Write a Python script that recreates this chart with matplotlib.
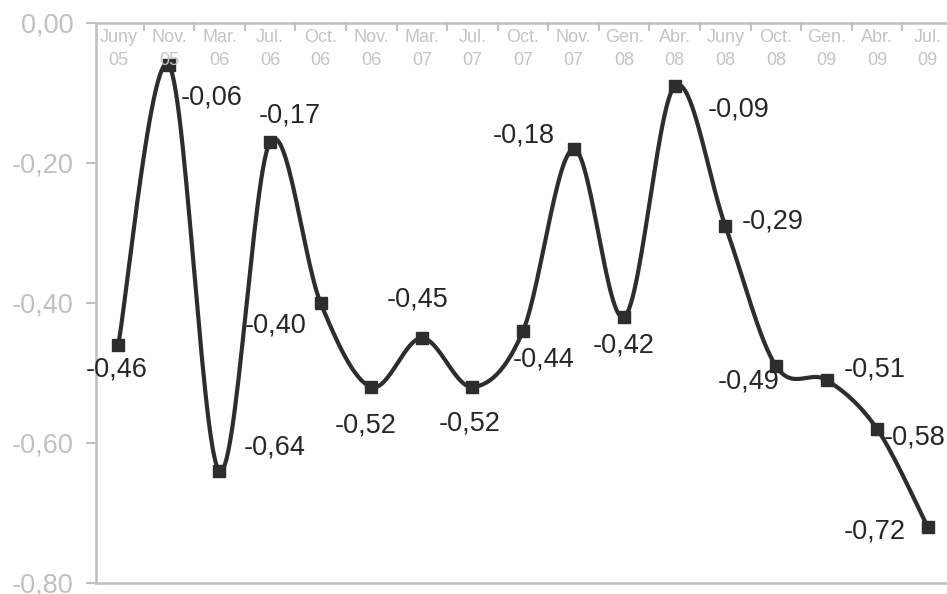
import numpy as np
import matplotlib.pyplot as plt

plt.rcParams['font.family'] = ['Liberation Sans', 'DejaVu Sans']

months = ["Juny", "Nov.", "Mar.", "Jul.", "Oct.", "Nov.", "Mar.", "Jul.", "Oct.",
          "Nov.", "Gen.", "Abr.", "Juny", "Oct.", "Gen.", "Abr.", "Jul."]
years = ["05", "05", "06", "06", "06", "06", "07", "07", "07",
         "07", "08", "08", "08", "08", "09", "09", "09"]
values = [-0.46, -0.06, -0.64, -0.17, -0.40, -0.52, -0.45, -0.52, -0.44,
          -0.18, -0.42, -0.09, -0.29, -0.49, -0.51, -0.58, -0.72]

# label offsets in pixels (dx, dy) from each marker, dy positive = up
label_off = [(-2, -24), (43, -32), (55, 23), (20, 26), (-45, -22), (-6, -38),
             (-4, 39), (-3, -36), (21, -29), (-50, 13), (0, -29), (64, -23),
             (47, 5), (-27, -16), (48, 11), (38, -9), (-53, -5)]

x = np.arange(len(values))
y = np.array(values)

# Excel-style smoothed line (Bezier through the points)
pts = np.column_stack([x, y])
ext = np.vstack([pts[0], pts, pts[-1]])
curve = []
t = np.linspace(0, 1, 30)
for i in range(len(pts) - 1):
    p0, p1, p2, p3 = ext[i], ext[i + 1], ext[i + 2], ext[i + 3]
    c1 = p1 + (p2 - p0) / 6
    c2 = p2 - (p3 - p1) / 6
    seg = ((1 - t) ** 3)[:, None] * p1 + (3 * (1 - t) ** 2 * t)[:, None] * c1 \
        + (3 * (1 - t) * t ** 2)[:, None] * c2 + (t ** 3)[:, None] * p2
    curve.append(seg)
curve = np.vstack(curve)

fig = plt.figure(figsize=(9.47, 5.94), dpi=100)
ax = fig.add_axes([96 / 947, 11 / 594, 857 / 947, 560 / 594])

ax.plot(curve[:, 0], curve[:, 1], color="#2d2d2d", lw=3.0, zorder=2,
        solid_joinstyle="round")
ax.plot(x, y, ls="none", marker="s", ms=9, color="#2d2d2d", zorder=3)

for xi, yi, (dx, dy) in zip(x, y, label_off):
    ax.annotate(f"{yi:.2f}".replace(".", ","), (xi, yi), xytext=(dx, dy),
                textcoords="offset pixels", ha="center", va="center",
                fontsize=19.5, color="#262626")

ax.set_xlim(-0.44, 16.5)
ax.set_ylim(-0.80, 0.0)
ax.set_yticks([0, -0.2, -0.4, -0.6, -0.8])
ax.set_yticklabels(["0,00", "-0,20", "-0,40", "-0,60", "-0,80"])
ax.tick_params(axis="y", colors="#c0c0c0", labelcolor="#c0c0c0", labelsize=19.5,
               length=7, width=1.5, direction="out", pad=9)

# category labels hang from the top axis
ax.set_xticks([])
for i, (m, yr) in enumerate(zip(months, years)):
    ax.text(i, -0.0085, m + "\n" + yr, ha="center", va="top", fontsize=13,
            color="#c4c4c4", linespacing=1.45)
for b in np.arange(0.5, len(values) - 0.5):
    ax.plot([b, b], [0, -0.01], color="#c0c0c0", lw=1.5, clip_on=False)

for side in ["left", "top", "bottom"]:
    ax.spines[side].set_color("#c0c0c0")
    ax.spines[side].set_linewidth(1.8)
ax.spines["right"].set_visible(False)

fig.savefig("out.png", dpi=100)
